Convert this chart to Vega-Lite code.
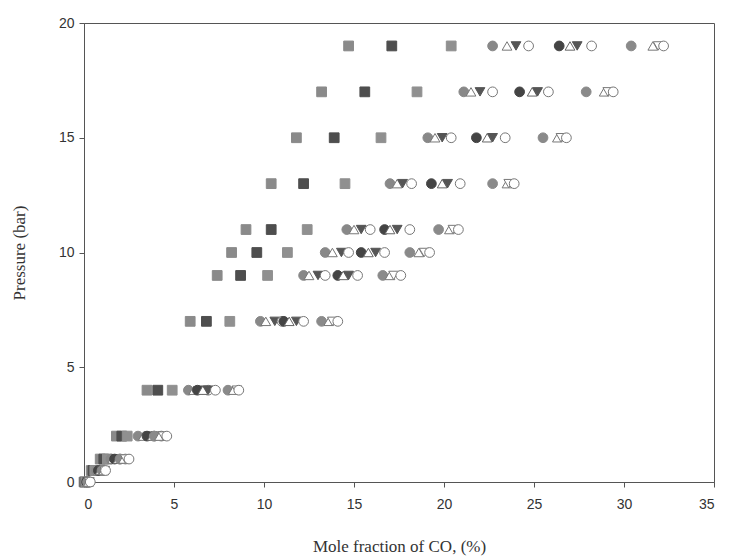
{
  "$schema": "https://vega.github.io/schema/vega-lite/v6.json",
  "autosize": "none",
  "padding": {"left": 84, "top": 23, "right": 17, "bottom": 75},
  "width": 630,
  "height": 459,
  "background": "white",
  "config": {"view": {"stroke": "#555555", "strokeWidth": 1}},
  "data": {"values": [
    {"p": 19, "sq1": 14.7, "sq2": 17.1, "sq3": 20.4, "c1": 22.7, "t1": 23.5, "d1": 24.0, "o1": 24.7, "c2": 26.4, "t2": 27.0, "d2": 27.4, "o2": 28.2, "c3": 30.4, "t3": 31.6, "d3": 31.9, "o3": 32.2},
    {"p": 17, "sq1": 13.2, "sq2": 15.6, "sq3": 18.5, "c1": 21.1, "t1": 21.5, "d1": 22.0, "o1": 22.7, "c2": 24.2, "t2": 24.9, "d2": 25.2, "o2": 25.8, "c3": 27.9, "t3": 28.9, "d3": 29.1, "o3": 29.4},
    {"p": 15, "sq1": 11.8, "sq2": 13.9, "sq3": 16.5, "c1": 19.1, "t1": 19.5, "d1": 19.9, "o1": 20.4, "c2": 21.8, "t2": 22.4, "d2": 22.7, "o2": 23.4, "c3": 25.5, "t3": 26.3, "d3": 26.5, "o3": 26.8},
    {"p": 13, "sq1": 10.4, "sq2": 12.2, "sq3": 14.5, "c1": 17.0, "t1": 17.4, "d1": 17.7, "o1": 18.2, "c2": 19.3, "t2": 19.9, "d2": 20.2, "o2": 20.9, "c3": 22.7, "t3": 23.5, "d3": 23.6, "o3": 23.9},
    {"p": 11, "sq1": 9.0, "sq2": 10.4, "sq3": 12.4, "c1": 14.6, "t1": 15.0, "d1": 15.4, "o1": 15.9, "c2": 16.7, "t2": 17.0, "d2": 17.4, "o2": 18.1, "c3": 19.7, "t3": 20.3, "d3": 20.5, "o3": 20.8},
    {"p": 10, "sq1": 8.2, "sq2": 9.6, "sq3": 11.3, "c1": 13.4, "t1": 13.8, "d1": 14.3, "o1": 14.7, "c2": 15.4, "t2": 15.8, "d2": 16.2, "o2": 16.7, "c3": 18.1, "t3": 18.6, "d3": 18.9, "o3": 19.2},
    {"p": 9, "sq1": 7.4, "sq2": 8.7, "sq3": 10.2, "c1": 12.2, "t1": 12.5, "d1": 13.0, "o1": 13.4, "c2": 14.1, "t2": 14.4, "d2": 14.7, "o2": 15.2, "c3": 16.6, "t3": 17.0, "d3": 17.2, "o3": 17.6},
    {"p": 7, "sq1": 5.9, "sq2": 6.8, "sq3": 8.1, "c1": 9.8, "t1": 10.1, "d1": 10.6, "o1": 11.0, "c2": 11.1, "t2": 11.4, "d2": 11.8, "o2": 12.2, "c3": 13.2, "t3": 13.6, "d3": 13.8, "o3": 14.1},
    {"p": 4, "sq1": 3.5, "sq2": 4.1, "sq3": 4.9, "c1": 5.8, "t1": 6.1, "d1": 6.6, "o1": 6.9, "c2": 6.3, "t2": 6.6, "d2": 6.9, "o2": 7.3, "c3": 8.0, "t3": 8.3, "d3": 8.5, "o3": 8.6},
    {"p": 2, "sq1": 1.8, "sq2": 2.1, "sq3": 2.4, "c1": 3.0, "t1": 3.3, "d1": 3.6, "o1": 3.9, "c2": 3.5, "t2": 3.8, "d2": 4.0, "o2": 4.3, "c3": 3.9, "t3": 4.2, "d3": 4.4, "o3": 4.6},
    {"p": 1, "sq1": 0.9, "sq2": 1.1, "sq3": 1.3, "c1": 1.5, "t1": 1.6, "d1": 1.8, "o1": 2.0, "c2": 1.7, "t2": 1.9, "d2": 2.1, "o2": 2.3, "c3": 2.0, "t3": 2.2, "d3": 2.3, "o3": 2.5},
    {"p": 0.5, "sq1": 0.4, "sq2": 0.5, "sq3": 0.6, "c1": 0.7, "t1": 0.8, "d1": 0.9, "o1": 1.0, "c2": 0.8, "t2": 0.9, "d2": 1.0, "o2": 1.1, "c3": 1.0, "t3": 1.1, "d3": 1.15, "o3": 1.2},
    {"p": 0, "sq1": 0.0, "sq2": 0.05, "sq3": 0.1, "c1": 0.1, "t1": 0.15, "d1": 0.2, "o1": 0.25, "c2": 0.15, "t2": 0.2, "d2": 0.25, "o2": 0.3, "c3": 0.2, "t3": 0.25, "d3": 0.3, "o3": 0.35}
  ]},
  "transform": [
    {"fold": ["sq1", "sq2", "sq3", "c1", "t1", "d1", "o1", "c2", "t2", "d2", "o2", "c3", "t3", "d3", "o3"], "as": ["s", "x"]}
  ],
  "mark": {"type": "point", "filled": true, "opacity": 1, "strokeWidth": 1},
  "encoding": {
    "x": {"field": "x", "type": "quantitative", "scale": {"domain": [0, 35], "nice": false, "zero": true},
      "axis": {"values": [0, 5, 10, 15, 20, 25, 30, 35], "grid": false, "domainColor": "#555555", "tickColor": "#555555", "tickSize": 5,
        "labelFont": "Liberation Sans", "labelFontSize": 14, "labelColor": "#333333", "labelPadding": 10,
        "title": "Mole fraction of CO, (%)", "titleFont": "Liberation Serif", "titleFontSize": 17, "titleFontWeight": "normal", "titleColor": "#333333", "titlePadding": 27}},
    "y": {"field": "p", "type": "quantitative", "scale": {"domain": [0, 20], "nice": false},
      "axis": {"values": [0, 5, 10, 15, 20], "grid": false, "domainColor": "#555555", "tickColor": "#555555", "tickSize": 5,
        "labelFont": "Liberation Sans", "labelFontSize": 14, "labelColor": "#333333", "labelPadding": 5,
        "title": "Pressure (bar)", "titleFont": "Liberation Serif", "titleFontSize": 17, "titleFontWeight": "normal", "titleColor": "#333333", "titlePadding": 30}},
    "shape": {"field": "s", "type": "nominal", "legend": null,
      "scale": {"domain": ["sq1", "sq2", "sq3", "c1", "t1", "d1", "o1", "c2", "t2", "d2", "o2", "c3", "t3", "d3", "o3"],
        "range": ["square", "square", "square", "circle", "triangle-up", "triangle-down", "circle", "circle", "triangle-up", "triangle-down", "circle", "circle", "triangle-up", "triangle-down", "circle"]}},
    "fill": {"field": "s", "type": "nominal", "legend": null,
      "scale": {"domain": ["sq1", "sq2", "sq3", "c1", "t1", "d1", "o1", "c2", "t2", "d2", "o2", "c3", "t3", "d3", "o3"],
        "range": ["#8a8a8a", "#4e4e4e", "#909090", "#888888", "#ffffff", "#555555", "#ffffff", "#444444", "#ffffff", "#555555", "#ffffff", "#8a8a8a", "#ffffff", "#ffffff", "#ffffff"]}},
    "stroke": {"field": "s", "type": "nominal", "legend": null,
      "scale": {"domain": ["sq1", "sq2", "sq3", "c1", "t1", "d1", "o1", "c2", "t2", "d2", "o2", "c3", "t3", "d3", "o3"],
        "range": ["#8a8a8a", "#4e4e4e", "#909090", "#888888", "#777777", "#555555", "#777777", "#444444", "#666666", "#555555", "#777777", "#8a8a8a", "#777777", "#777777", "#777777"]}},
    "size": {"field": "s", "type": "nominal", "legend": null,
      "scale": {"domain": ["sq1", "sq2", "sq3", "c1", "t1", "d1", "o1", "c2", "t2", "d2", "o2", "c3", "t3", "d3", "o3"],
        "range": [95, 95, 95, 70, 75, 80, 70, 70, 75, 80, 70, 70, 75, 80, 70]}}
  }
}
